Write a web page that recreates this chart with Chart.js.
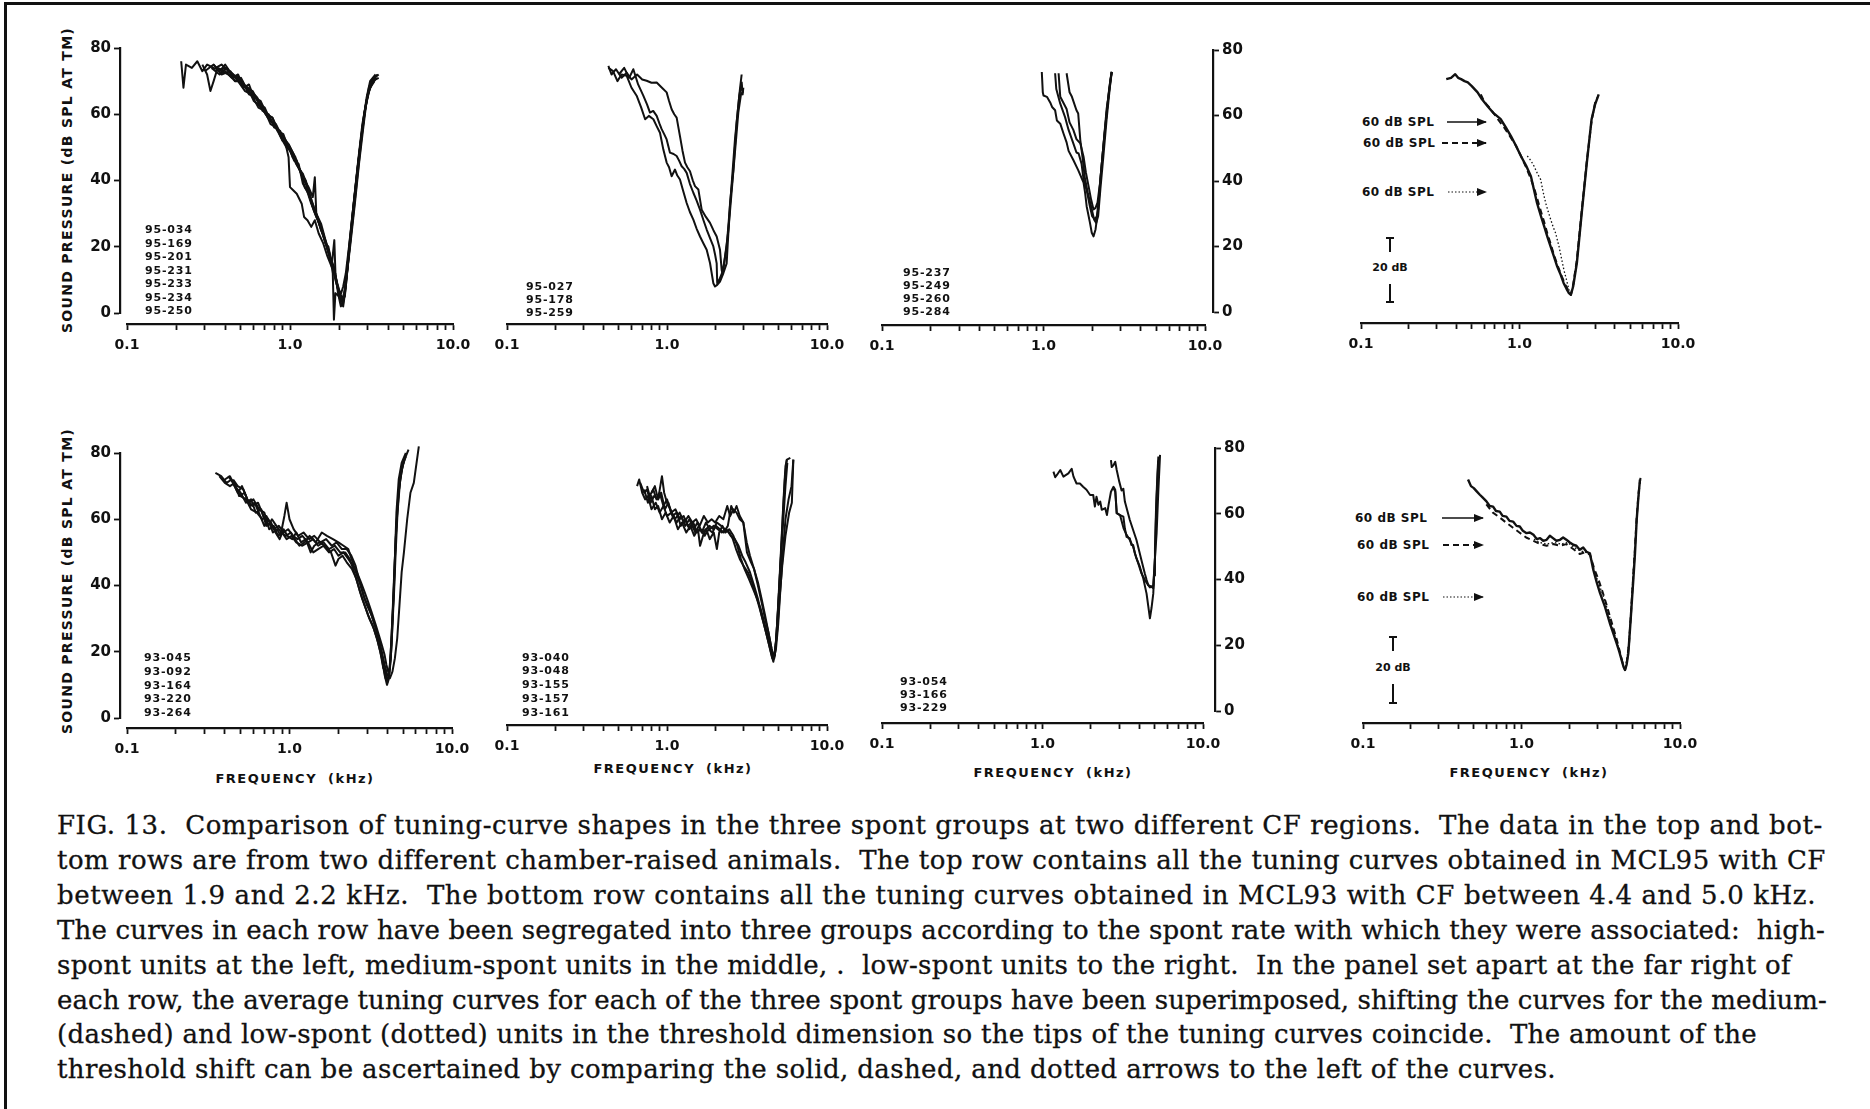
<!DOCTYPE html>
<html>
<head>
<meta charset="utf-8">
<title>Fig. 13 tuning curves</title>
<script src="https://cdn.jsdelivr.net/npm/chart.js@4.4.1/dist/chart.umd.min.js"></script>
<style>
  html, body { margin: 0; padding: 0; background: #fff; }
  body { position: relative; width: 1870px; height: 1109px; overflow: hidden; color: #111; font-family: 'DejaVu Sans', sans-serif; }
  canvas { position: absolute; }
  svg { position: absolute; left: 0; top: 0; }
  .units { position: absolute; font: bold 11px/13.5px 'DejaVu Sans'; letter-spacing: 0.8px; white-space: pre; }
  .ytitle { position: absolute; width: 320px; height: 18px; text-align: center; font: bold 14px/18px 'DejaVu Sans'; letter-spacing: 1.3px; transform: rotate(-90deg); white-space: nowrap; }
  .xtitle { position: absolute; width: 220px; text-align: center; font: bold 13px/18px 'DejaVu Sans'; letter-spacing: 1.5px; word-spacing: 5px; white-space: nowrap; }
  .spl { position: absolute; font: bold 12px/14px 'DejaVu Sans'; letter-spacing: 0.5px; white-space: nowrap; }
  .bar { position: absolute; width: 50px; text-align: center; font: bold 11px/14px 'DejaVu Sans'; white-space: nowrap; }
  .cap { position: absolute; left: 57px; font: 26px/34px 'DejaVu Serif', serif; white-space: pre; -webkit-text-stroke: 0.3px #111; }
</style>
</head>
<body>
<svg width="1870" height="1109">
  <defs>
    <marker id="ah" markerWidth="10" markerHeight="8" refX="9" refY="4" orient="auto" markerUnits="userSpaceOnUse">
      <path d="M0,0 L10,4 L0,8 z" fill="#111"/>
    </marker>
  </defs>
  <rect x="4" y="2" width="3" height="1107" fill="#111"/>
  <rect x="4" y="2" width="1866" height="3" fill="#111"/>
  <!-- arrows, top average panel -->
  <line x1="1447" y1="122" x2="1486" y2="122" stroke="#111" stroke-width="1.6" marker-end="url(#ah)"/>
  <line x1="1442" y1="143" x2="1486" y2="143" stroke="#111" stroke-width="1.8" stroke-dasharray="6 4" marker-end="url(#ah)"/>
  <line x1="1448" y1="192" x2="1486" y2="192" stroke="#111" stroke-width="1.2" stroke-dasharray="1.5 2" marker-end="url(#ah)"/>
  <!-- arrows, bottom average panel -->
  <line x1="1442" y1="518" x2="1483" y2="518" stroke="#111" stroke-width="1.6" marker-end="url(#ah)"/>
  <line x1="1443" y1="545" x2="1483" y2="545" stroke="#111" stroke-width="1.8" stroke-dasharray="6 4" marker-end="url(#ah)"/>
  <line x1="1443" y1="597" x2="1483" y2="597" stroke="#111" stroke-width="1.2" stroke-dasharray="1.5 2" marker-end="url(#ah)"/>
  <!-- 20 dB scale bars -->
  <g stroke="#111" stroke-width="2">
    <line x1="1386" y1="238" x2="1394" y2="238"/><line x1="1390" y1="238" x2="1390" y2="252"/>
    <line x1="1390" y1="284" x2="1390" y2="302"/><line x1="1386" y1="302" x2="1394" y2="302"/>
    <line x1="1389" y1="637" x2="1397" y2="637"/><line x1="1393" y1="637" x2="1393" y2="651"/>
    <line x1="1393" y1="684" x2="1393" y2="703"/><line x1="1389" y1="703" x2="1397" y2="703"/>
  </g>
</svg>

<div class="ytitle" style="left:-93px;top:171px">SOUND PRESSURE (dB SPL AT TM)</div>
<div class="ytitle" style="left:-93px;top:572px">SOUND PRESSURE (dB SPL AT TM)</div>
<div class="xtitle" style="left:185px;top:770px">FREQUENCY (kHz)</div>
<div class="xtitle" style="left:563px;top:760px">FREQUENCY (kHz)</div>
<div class="xtitle" style="left:943px;top:764px">FREQUENCY (kHz)</div>
<div class="xtitle" style="left:1419px;top:764px">FREQUENCY (kHz)</div>

<div class="spl" style="left:1362px;top:115px">60 dB SPL</div>
<div class="spl" style="left:1363px;top:136px">60 dB SPL</div>
<div class="spl" style="left:1362px;top:185px">60 dB SPL</div>
<div class="spl" style="left:1355px;top:511px">60 dB SPL</div>
<div class="spl" style="left:1357px;top:538px">60 dB SPL</div>
<div class="spl" style="left:1357px;top:590px">60 dB SPL</div>
<div class="bar" style="left:1365px;top:261px">20 dB</div>
<div class="bar" style="left:1368px;top:661px">20 dB</div>

<script>
// axis ticks
const freqTicks = [0.1, 0.2, 0.3, 0.4, 0.5, 0.6, 0.7, 0.8, 0.9, 1, 2, 3, 4, 5, 6, 7, 8, 9, 10];
const freqTickLabels = ['0.1', '', '', '', '', '', '', '', '', '1.0', '', '', '', '', '', '', '', '', '10.0'];
const splTicks = [0, 20, 40, 60, 80];
const splTickLabels = ['0', '20', '40', '60', '80'];

// unit numbers listed in each panel
const topHighUnits = ['95-034', '95-169', '95-201', '95-231', '95-233', '95-234', '95-250'];
const topMedUnits = ['95-027', '95-178', '95-259'];
const topLowUnits = ['95-237', '95-249', '95-260', '95-284'];
const botHighUnits = ['93-045', '93-092', '93-164', '93-220', '93-264'];
const botMedUnits = ['93-040', '93-048', '93-155', '93-157', '93-161'];
const botLowUnits = ['93-054', '93-166', '93-229'];

// tuning curves, [kHz, dB SPL]
// MCL95, high spont
const tc95_034 = [[0.215,76],[0.222,68],[0.23,75],[0.25,74],[0.27,76],[0.29,73],[0.31,75],[0.34,74],[0.38,73],[0.42,72],[0.46,70],[0.5,71],[0.55,67],[0.6,66],[0.65,63],[0.7,62],[0.76,58],[0.82,57],[0.9,53],[0.98,51],[1.05,48],[1.12,44],[1.2,42],[1.3,37],[1.4,32],[1.5,28],[1.6,24],[1.7,19],[1.8,15],[1.9,11],[2.0,7],[2.08,4],[2.15,6],[2.25,13],[2.35,21],[2.5,33],[2.65,45],[2.8,55],[2.95,64],[3.1,69],[3.3,71],[3.5,72]];
const tc95_169 = [[0.29,75],[0.31,72],[0.325,67],[0.34,70],[0.36,74],[0.4,73],[0.44,71],[0.48,72],[0.52,68],[0.56,69],[0.6,65],[0.66,64],[0.72,60],[0.78,59],[0.85,55],[0.92,53],[1.0,50],[1.08,47],[1.15,43],[1.25,40],[1.35,34],[1.45,30],[1.55,25],[1.65,22],[1.75,17],[1.85,13],[1.95,8],[2.05,3],[2.12,2],[2.2,8],[2.3,18],[2.45,30],[2.6,42],[2.75,53],[2.9,62],[3.05,68],[3.25,71],[3.45,72]];
const tc95_201 = [[0.35,74],[0.38,75],[0.42,73],[0.47,71],[0.52,69],[0.58,67],[0.63,65],[0.7,61],[0.77,58],[0.85,55],[0.93,52],[0.98,47],[1.0,38],[1.05,37],[1.1,36],[1.18,33],[1.22,29],[1.28,28],[1.35,26],[1.42,28],[1.5,24],[1.6,21],[1.7,17],[1.8,14],[1.87,22],[1.9,12],[1.97,6],[2.05,2],[2.12,3],[2.2,9],[2.32,20],[2.45,32],[2.6,44],[2.78,56],[2.95,65],[3.1,70],[3.35,72]];
const tc95_231 = [[0.36,73],[0.4,74],[0.45,72],[0.5,69],[0.55,68],[0.6,64],[0.67,62],[0.73,59],[0.8,57],[0.88,53],[0.95,50],[1.02,49],[1.1,45],[1.2,41],[1.3,38],[1.38,35],[1.42,41],[1.45,30],[1.55,27],[1.65,22],[1.75,18],[1.83,12],[1.86,-2],[1.9,6],[2.0,5],[2.1,3],[2.18,7],[2.28,17],[2.4,28],[2.55,40],[2.7,51],[2.85,60],[3.0,66],[3.15,69],[3.4,71]];
const tc95_233 = [[0.33,74],[0.37,72],[0.41,74],[0.46,70],[0.51,70],[0.56,66],[0.62,65],[0.68,61],[0.74,60],[0.8,56],[0.87,55],[0.94,51],[1.0,49],[1.06,46],[1.13,45],[1.2,39],[1.27,37],[1.35,33],[1.45,29],[1.55,26],[1.65,21],[1.72,20],[1.8,15],[1.9,10],[2.0,6],[2.07,5],[2.14,4],[2.22,11],[2.33,22],[2.48,35],[2.62,46],[2.78,57],[2.92,63],[3.1,68],[3.3,70]];
const tc95_234 = [[0.3,73],[0.34,75],[0.38,72],[0.43,73],[0.48,70],[0.53,67],[0.58,66],[0.64,62],[0.7,61],[0.76,57],[0.83,56],[0.9,52],[0.97,51],[1.04,47],[1.1,46],[1.17,42],[1.25,39],[1.32,35],[1.4,31],[1.48,28],[1.58,24],[1.68,20],[1.78,16],[1.88,12],[1.98,7],[2.06,6],[2.12,8],[2.2,12],[2.3,20],[2.42,30],[2.56,41],[2.72,52],[2.88,61],[3.05,67],[3.25,70],[3.4,71]];
const tc95_250 = [[0.34,75],[0.37,73],[0.4,75],[0.44,72],[0.49,71],[0.54,68],[0.59,67],[0.65,63],[0.71,60],[0.78,59],[0.84,55],[0.91,54],[0.97,50],[1.03,48],[1.09,45],[1.16,43],[1.23,38],[1.3,36],[1.38,32],[1.46,29],[1.56,25],[1.66,21],[1.76,17],[1.86,14],[1.94,9],[2.02,6],[2.1,4],[2.17,5],[2.26,14],[2.38,25],[2.52,37],[2.68,49],[2.84,59],[3.0,66],[3.2,70],[3.5,71]];
// MCL95, medium spont
const tc95_027 = [[0.43,74.6],[0.45,72],[0.48,73.6],[0.52,71],[0.56,72.5],[0.6,70.5],[0.65,72],[0.7,70.5],[0.746,70.1],[0.8,69.5],[0.862,69.6],[0.93,68],[0.995,66.6],[1.03,64],[1.069,61.5],[1.11,60],[1.149,59],[1.205,53.4],[1.25,49],[1.296,45.4],[1.34,44],[1.392,42.8],[1.45,40],[1.496,38.3],[1.57,37.3],[1.647,31.2],[1.75,29],[1.857,27.2],[1.95,25],[2.044,23.1],[2.144,19.1],[2.196,13],[2.22,12],[2.36,20],[2.5,35],[2.66,52.4],[2.83,65.6],[2.93,69.6],[2.97,66],[3.0,68]];
const tc95_178 = [[0.5,72],[0.54,74],[0.58,71],[0.616,73.6],[0.66,69],[0.711,65.6],[0.75,63],[0.783,60.5],[0.82,61],[0.862,59.5],[0.9,57],[0.926,55.5],[0.96,54],[0.995,52.4],[1.044,48.4],[1.1,48],[1.149,47.4],[1.19,46],[1.235,44.3],[1.28,43.5],[1.327,42.3],[1.39,39],[1.461,36.3],[1.53,34],[1.608,31.2],[1.69,28],[1.77,25.2],[1.86,22.5],[1.948,20.1],[2.0,17.5],[2.044,15],[2.06,9],[2.12,10],[2.25,13],[2.42,25],[2.6,43],[2.79,60.5],[2.9,66],[3.0,67]];
const tc95_259 = [[0.43,74],[0.46,73],[0.49,70],[0.52,72],[0.56,71.6],[0.6,68],[0.646,65.6],[0.69,62],[0.73,58.5],[0.77,59.5],[0.822,58.5],[0.86,56.5],[0.904,54.4],[0.948,49.4],[0.995,45.4],[1.03,44],[1.069,41.3],[1.122,43.3],[1.16,41.5],[1.205,40.3],[1.26,37],[1.327,33.2],[1.39,30.5],[1.461,28.2],[1.53,25.5],[1.608,23.1],[1.69,21],[1.77,19.1],[1.857,15.1],[1.948,9],[1.995,8],[2.06,8.5],[2.144,9.5],[2.25,12],[2.36,15],[2.476,33],[2.597,43],[2.724,57.5],[2.857,67.6],[2.928,72]];
// MCL95, low spont
const tc95_237 = [[0.976,73.3],[0.99,67.1],[1.0,66.1],[1.05,65.7],[1.1,64],[1.13,62.6],[1.18,61.6],[1.21,58.5],[1.27,57.5],[1.33,54.5],[1.39,51.8],[1.43,49.2],[1.53,46.4],[1.64,43.3],[1.77,39.5],[1.81,36.4],[1.85,32.3],[1.94,27.2],[1.99,24.2],[2.04,23.1],[2.1,25.2],[2.18,31.3],[2.25,40.5],[2.35,50.8],[2.46,62],[2.58,69.2],[2.65,73.3]];
const tc95_249 = [[1.18,72.9],[1.2,68.1],[1.27,63.6],[1.36,59.5],[1.43,55.6],[1.53,51.5],[1.6,48.7],[1.65,48.4],[1.72,45.3],[1.77,40.5],[1.85,37.2],[1.94,32.1],[2.0,29.3],[2.08,28.2],[2.14,29.3],[2.2,34.4],[2.28,43.6],[2.38,53.8],[2.5,64],[2.6,71.2],[2.65,73.3]];
const tc95_260 = [[1.24,72.9],[1.27,65.7],[1.39,62],[1.45,57.9],[1.53,55.6],[1.6,52.8],[1.69,51.5],[1.77,47.4],[1.83,42.6],[1.9,38.5],[1.97,34.4],[2.04,31.3],[2.1,31.8],[2.16,33.4],[2.24,39.5],[2.33,48.7],[2.44,58.9],[2.55,68.1],[2.64,73.3]];
const tc95_284 = [[1.39,72.9],[1.45,67.1],[1.5,65.7],[1.6,61.6],[1.64,60.6],[1.69,52.5],[1.75,46.7],[1.8,41.2],[1.88,36.4],[1.97,32.3],[2.06,28.2],[2.12,27.2],[2.18,29.3],[2.25,37.5],[2.35,47.7],[2.46,58.9],[2.57,68.1],[2.64,73.3]];
// MCL95, group averages
const avg95High = [[0.345,70.6],[0.37,71],[0.393,72.1],[0.41,71],[0.428,70.6],[0.45,70],[0.472,69.6],[0.5,68.5],[0.544,66.6],[0.58,64.5],[0.627,62.5],[0.68,60.5],[0.72,59.5],[0.761,58.5],[0.82,56],[0.883,53.4],[0.95,50.5],[1.02,47.4],[1.1,44.5],[1.18,41.3],[1.23,37.5],[1.29,33.2],[1.36,29.5],[1.43,26.2],[1.5,23],[1.57,20.1],[1.65,17],[1.73,14],[1.82,11.5],[1.9,9],[1.98,7.3],[2.05,6],[2.11,5.5],[2.18,8],[2.3,15],[2.47,30.2],[2.66,45.4],[2.85,58.5],[3.0,63],[3.16,66]];
const avg95Med = [[0.57,66],[0.59,64.5],[0.62,63],[0.66,61.5],[0.73,58.5],[0.8,56],[0.88,53],[0.95,50.5],[1.02,47.5],[1.1,44],[1.18,40.5],[1.25,37],[1.33,32.5],[1.43,27.5],[1.5,24],[1.57,21],[1.65,17.5],[1.75,14],[1.85,11],[1.95,8.5],[2.05,6.5],[2.11,5.5],[2.18,8.5],[2.3,16],[2.47,31],[2.66,46],[2.85,58],[3.0,63.5],[3.1,65]];
const avg95Low = [[1.12,47.4],[1.18,46],[1.236,44.3],[1.3,42],[1.36,40.3],[1.41,36.5],[1.463,33.2],[1.52,30.5],[1.574,28.2],[1.63,26],[1.69,24.1],[1.775,20.1],[1.84,16.5],[1.906,13],[1.98,10],[2.05,7],[2.11,5.8],[2.18,8],[2.3,15.5],[2.47,30.5],[2.66,45.5],[2.85,58],[3.0,63]];
// MCL93, high spont
const tc93_045 = [[0.35,74],[0.38,73],[0.41,71],[0.44,72],[0.47,69],[0.5,67],[0.54,66],[0.58,63],[0.63,62],[0.68,60],[0.72,61],[0.76,59],[0.8,57],[0.86,58],[0.92,56],[0.98,57],[1.05,55],[1.12,54],[1.2,55],[1.3,53],[1.4,54],[1.5,52],[1.62,53],[1.75,51],[1.9,52],[2.05,50],[2.2,50],[2.35,48],[2.5,44],[2.65,40],[2.8,36],[2.95,33],[3.1,30],[3.3,27],[3.5,23],[3.7,18],[3.85,13],[3.98,10],[4.1,12],[4.2,20],[4.3,30],[4.4,40],[4.5,54],[4.65,66],[4.85,74],[5.1,78],[5.4,81]];
const tc93_092 = [[0.37,73],[0.4,71],[0.43,70],[0.46,71],[0.49,67],[0.53,68],[0.57,64],[0.61,65],[0.66,61],[0.7,58],[0.74,60],[0.79,56],[0.84,57],[0.88,55],[0.93,61],[0.96,65],[1.0,60],[1.06,57],[1.13,55],[1.22,56],[1.32,54],[1.42,55],[1.55,53],[1.68,54],[1.82,52],[1.95,53],[2.1,51],[2.25,51],[2.4,49],[2.55,46],[2.7,41],[2.85,37],[3.0,34],[3.2,31],[3.4,27],[3.6,22],[3.75,17],[3.9,12],[4.02,11],[4.12,14],[4.22,22],[4.32,33],[4.42,45],[4.55,58],[4.72,69],[4.95,76],[5.2,79]];
const tc93_164 = [[0.4,72],[0.43,73],[0.46,70],[0.5,68],[0.54,65],[0.58,66],[0.62,62],[0.67,63],[0.72,58],[0.77,59],[0.82,56],[0.87,54],[0.92,57],[0.97,55],[1.04,54],[1.1,56],[1.18,53],[1.26,54],[1.35,50],[1.42,52],[1.52,53],[1.65,52],[1.8,50],[1.92,46],[2.0,48],[2.12,49],[2.25,47],[2.42,45],[2.58,42],[2.72,38],[2.9,34],[3.05,31],[3.25,28],[3.45,24],[3.62,20],[3.78,15],[3.9,14],[4.0,11],[4.1,13],[4.2,18],[4.3,28],[4.4,38],[4.5,50],[4.62,62],[4.8,72],[5.06,78]];
const tc93_220 = [[0.42,73],[0.45,71],[0.48,68],[0.51,70],[0.55,66],[0.59,64],[0.64,65],[0.69,61],[0.74,58],[0.78,60],[0.83,58],[0.89,56],[0.95,55],[1.02,56],[1.08,54],[1.15,52],[1.24,53],[1.33,55],[1.45,53],[1.58,56],[1.7,55],[1.85,54],[2.0,53],[2.15,52],[2.3,51],[2.45,47],[2.6,43],[2.75,40],[2.9,36],[3.1,33],[3.3,29],[3.5,25],[3.7,20],[3.85,16],[4.0,13],[4.15,12],[4.3,14],[4.45,18],[4.6,24],[4.75,34],[4.9,44],[5.06,50],[5.3,60],[5.55,68],[5.82,71],[6.25,82]];
const tc93_264 = [[0.45,72],[0.48,70],[0.52,69],[0.56,65],[0.6,66],[0.65,63],[0.7,62],[0.75,57],[0.8,58],[0.85,55],[0.9,56],[0.96,54],[1.03,55],[1.1,53],[1.2,52],[1.3,53],[1.4,50],[1.5,51],[1.62,52],[1.75,50],[1.88,51],[2.0,49],[2.15,50],[2.3,48],[2.45,46],[2.6,44],[2.75,41],[2.9,38],[3.05,35],[3.2,32],[3.4,28],[3.55,25],[3.7,22],[3.85,19],[3.95,16],[4.05,14],[4.15,15],[4.25,22],[4.35,35],[4.45,48],[4.55,62],[4.7,72],[4.9,77],[5.2,80]];
// MCL93, medium spont
const tc93_040 = [[0.65,70],[0.67,72],[0.7,68],[0.73,66],[0.76,67],[0.8,63],[0.85,65],[0.9,62],[0.95,64],[1.0,61],[1.07,62],[1.15,59],[1.22,61],[1.3,58],[1.38,60],[1.47,57],[1.55,59],[1.65,56],[1.75,59],[1.85,57],[1.96,58],[2.08,57],[2.2,56],[2.35,57],[2.5,55],[2.65,54],[2.8,52],[2.95,49],[3.1,47],[3.3,44],[3.5,40],[3.7,36],[3.9,31],[4.1,27],[4.3,23],[4.5,19],[4.62,17],[4.75,20],[4.9,30],[5.05,42],[5.2,54],[5.35,66],[5.5,76],[5.62,78],[5.9,78.5]];
const tc93_048 = [[0.68,71],[0.72,68],[0.75,69],[0.79,65],[0.83,67],[0.88,66],[0.93,73],[0.96,68],[1.0,65],[1.05,63],[1.12,60],[1.2,62],[1.28,59],[1.36,61],[1.44,59],[1.52,60],[1.6,58],[1.7,61],[1.8,59],[1.9,60],[2.0,59],[2.12,61],[2.25,60],[2.38,64],[2.48,61],[2.6,63],[2.72,62],[2.85,60],[3.0,59],[3.15,53],[3.3,49],[3.5,45],[3.7,41],[3.9,36],[4.1,31],[4.3,26],[4.5,21],[4.65,18],[4.8,21],[4.95,28],[5.1,38],[5.3,50],[5.5,60],[5.75,66],[6.0,70],[6.16,78]];
const tc93_155 = [[0.72,69],[0.76,65],[0.8,67],[0.84,63],[0.88,64],[0.93,60],[0.98,62],[1.04,59],[1.1,61],[1.17,57],[1.24,59],[1.32,56],[1.4,58],[1.48,55],[1.56,57],[1.61,52],[1.68,55],[1.76,57],[1.85,54],[1.96,56],[2.05,51],[2.12,56],[2.22,58],[2.32,56],[2.45,57],[2.6,55],[2.75,52],[2.9,48],[3.05,45],[3.25,42],[3.45,39],[3.65,36],[3.85,33],[4.05,29],[4.25,25],[4.45,21],[4.6,18],[4.72,19],[4.85,26],[5.0,37],[5.15,49],[5.3,61],[5.45,72],[5.6,78]];
const tc93_157 = [[0.75,70],[0.78,67],[0.82,69],[0.86,66],[0.9,68],[0.95,64],[1.0,66],[1.06,62],[1.13,63],[1.2,60],[1.27,61],[1.35,58],[1.43,59],[1.5,56],[1.58,58],[1.66,56],[1.75,57],[1.85,58],[1.95,57],[2.05,59],[2.18,58],[2.3,57],[2.45,56],[2.58,54],[2.7,51],[2.85,48],[3.0,46],[3.2,44],[3.4,41],[3.6,37],[3.8,33],[4.0,29],[4.2,25],[4.4,21],[4.55,18],[4.68,18],[4.8,23],[4.95,33],[5.1,45],[5.3,58],[5.5,70],[5.65,77]];
const tc93_161 = [[0.8,68],[0.84,70],[0.88,66],[0.92,68],[0.97,63],[1.02,65],[1.08,61],[1.15,62],[1.22,58],[1.3,60],[1.38,57],[1.46,59],[1.54,56],[1.62,57],[1.72,55],[1.82,57],[1.92,56],[2.02,58],[2.14,57],[2.26,56],[2.4,58],[2.52,64],[2.62,62],[2.72,64],[2.85,61],[3.0,59],[3.16,50],[3.35,47],[3.5,45],[3.7,40],[3.9,35],[4.1,30],[4.3,26],[4.5,21],[4.64,18],[4.78,22],[4.9,27],[5.05,36],[5.25,46],[5.5,55],[5.8,62],[6.03,65],[6.16,78]];
// MCL93, low spont
const tc93_054 = [[1.17,72.8],[1.2,71.1],[1.23,71.8],[1.29,73.3],[1.35,71.3],[1.45,72.3],[1.52,73.7],[1.56,71.3],[1.63,69.2],[1.71,69.2],[1.79,68.2],[1.88,67.3],[1.98,65.7],[2.07,65.7],[2.12,62.2],[2.17,65.2],[2.23,62.7],[2.29,63.7],[2.34,61.2],[2.46,61.7],[2.52,59.6],[2.58,62.7],[2.67,66.7],[2.77,68.2],[2.84,67.3],[2.9,60.2],[3.04,59.6],[3.19,59.1],[3.26,55.5],[3.34,53],[3.5,52.5],[3.58,50.5],[3.67,50.5],[3.76,48],[3.95,44.9],[4.14,41.8],[4.34,39.9],[4.56,38.3],[4.78,37.8],[4.9,38.1],[5.0,45.3],[5.14,54.1],[5.27,67],[5.4,77.9]];
const tc93_166 = [[2.67,76.3],[2.7,74.2],[2.77,74.8],[2.84,75.8],[2.9,73.3],[3.0,70],[3.11,67.1],[3.19,67.6],[3.26,63.7],[3.5,58.1],[3.85,52],[4.14,45.8],[4.34,41.8],[4.45,39.9],[4.56,38.3],[4.67,37.6],[4.78,37.8],[4.9,37.3],[5.02,46.4],[5.08,56.7],[5.14,64.9],[5.27,76.2]];
const tc93_229 = [[2.77,67.8],[2.84,66.7],[2.9,60.2],[3.04,59.6],[3.2,55.6],[3.34,53.6],[3.5,52],[3.67,50],[3.85,46.4],[4.04,43.9],[4.25,40.2],[4.45,35.7],[4.56,31.9],[4.67,28.2],[4.78,31.4],[4.9,35.7],[4.96,41.2],[5.02,49.4],[5.1,61.8],[5.2,72.1],[5.27,77.4]];
// MCL93, group averages
const avg93High = [[0.46,72],[0.48,70],[0.5,69.4],[0.52,68.5],[0.546,67.4],[0.57,66.5],[0.601,65.4],[0.63,64],[0.662,63.8],[0.69,62.5],[0.729,62.3],[0.76,61],[0.803,60.8],[0.84,59.5],[0.885,59.3],[0.93,58],[0.975,57.8],[1.02,56.5],[1.076,55.8],[1.13,56],[1.19,55.3],[1.25,54],[1.31,54.3],[1.37,53.5],[1.44,53.8],[1.51,55],[1.58,54.3],[1.66,53.5],[1.75,53.8],[1.83,54.5],[1.92,53.8],[2.02,53],[2.12,52.3],[2.22,52],[2.33,50.8],[2.45,51.5],[2.57,50.2],[2.7,49.7],[2.84,44.7],[2.98,41],[3.13,37.7],[3.36,33.6],[3.61,28.6],[3.8,25.5],[3.98,22.6],[4.14,20],[4.28,17.5],[4.4,15.5],[4.5,14.5],[4.6,16],[4.72,19.5],[4.84,27],[4.96,34.6],[5.08,42],[5.2,49.7],[5.33,59.8],[5.45,66],[5.59,72]];
const avg93Med = [[0.6,64.5],[0.66,62],[0.73,60.5],[0.8,59],[0.88,57.5],[0.97,56],[1.07,54.5],[1.19,53.5],[1.31,52.5],[1.44,52],[1.58,52.5],[1.75,52],[1.92,52.5],[2.12,51],[2.33,49.5],[2.5,50],[2.7,49.5],[2.88,45],[3.05,42],[3.25,38],[3.5,33],[3.75,28],[4.0,23.5],[4.2,19.5],[4.38,16],[4.5,14.5],[4.62,17],[4.76,22],[4.9,31],[5.04,41],[5.18,50],[5.32,60],[5.48,68],[5.65,73]];
const avg93Low = [[1.2,54],[1.3,53],[1.44,52.5],[1.6,53],[1.78,52.5],[1.95,53],[2.15,51.5],[2.35,50.5],[2.55,50],[2.72,49],[2.9,44],[3.1,40],[3.3,36.5],[3.55,31.5],[3.8,26.5],[4.05,22],[4.25,18.5],[4.42,15.5],[4.5,14.5],[4.62,17.5],[4.76,23],[4.9,32],[5.05,43],[5.2,52],[5.35,61],[5.5,68]];

// figure caption
const captionLines = [
  'FIG. 13.  Comparison of tuning-curve shapes in the three spont groups at two different CF regions.  The data in the top and bot-',
  'tom rows are from two different chamber-raised animals.  The top row contains all the tuning curves obtained in MCL95 with CF',
  'between 1.9 and 2.2 kHz.  The bottom row contains all the tuning curves obtained in MCL93 with CF between 4.4 and 5.0 kHz.',
  'The curves in each row have been segregated into three groups according to the spont rate with which they were associated:  high-',
  'spont units at the left, medium-spont units in the middle, .  low-spont units to the right.  In the panel set apart at the far right of',
  'each row, the average tuning curves for each of the three spont groups have been superimposed, shifting the curves for the medium-',
  '(dashed) and low-spont (dotted) units in the threshold dimension so the tips of the tuning curves coincide.  The amount of the',
  'threshold shift can be ascertained by comparing the solid, dashed, and dotted arrows to the left of the curves.'
];

// page layout (pixels)
const captionTop = 808, captionStep = 34.9;
const captionEnds = [1822, 1825, 1816, 1825, 1791, 1827, 1757, 1556];

const panels = [
  { x01: 127, x10: 453, y80: 48, y0: 313, axisY: 324, yAxis: 'left', axisX: 120,
    curves: [tc95_034, tc95_169, tc95_201, tc95_231, tc95_233, tc95_234, tc95_250],
    units: topHighUnits, unitsAt: [145, 223, 13.5] },
  { x01: 507, x10: 827, y80: 48, y0: 313, axisY: 324,
    curves: [tc95_027, tc95_178, tc95_259],
    units: topMedUnits, unitsAt: [526, 279.5, 13] },
  { x01: 882, x10: 1205, y80: 50, y0: 312, axisY: 325, yAxis: 'right', axisX: 1213,
    curves: [tc95_237, tc95_249, tc95_260, tc95_284],
    units: topLowUnits, unitsAt: [903, 265.5, 13] },
  { x01: 1361, x10: 1678, y80: 48, y0: 313, axisY: 323,
    curves: [avg95High, avg95Med, avg95Low], styles: ['mean', 'dashed', 'dotted'] },
  { x01: 127, x10: 452, y80: 453, y0: 718, axisY: 728, yAxis: 'left', axisX: 120,
    curves: [tc93_045, tc93_092, tc93_164, tc93_220, tc93_264],
    units: botHighUnits, unitsAt: [144, 651, 13.75] },
  { x01: 507, x10: 827, y80: 453, y0: 718, axisY: 725,
    curves: [tc93_040, tc93_048, tc93_155, tc93_157, tc93_161],
    units: botMedUnits, unitsAt: [522, 650.5, 13.75] },
  { x01: 882, x10: 1203, y80: 448, y0: 711, axisY: 723, yAxis: 'right', axisX: 1215,
    curves: [tc93_054, tc93_166, tc93_229],
    units: botLowUnits, unitsAt: [900, 674.5, 13] },
  { x01: 1363, x10: 1680, y80: 453, y0: 718, axisY: 723,
    curves: [avg93High, avg93Med, avg93Low], styles: ['mean', 'dashed', 'dotted'] }
];

const INK = '#111';
const PL = 22, PR = 28, PT = 16, XH = 44, YW = 42;

function lineStyle(kind) {
  if (kind === 'dashed') return { borderWidth: 2, borderDash: [6, 4] };
  if (kind === 'dotted') return { borderWidth: 1.3, borderDash: [1.5, 2.2] };
  if (kind === 'mean') return { borderWidth: 2.4 };
  return { borderWidth: 2 };
}

function gapScale(position, size) {
  const horizontal = position === 'bottom';
  return {
    type: 'linear', position, weight: 0, display: true,
    grid: { display: false }, ticks: { display: false }, border: { display: false },
    afterFit: s => { if (horizontal) s.height = size; else s.width = size; }
  };
}

function buildPanel(p) {
  const leftW = p.yAxis === 'left' ? (p.x01 - p.axisX) + YW : 0;
  const rightW = p.yAxis === 'right' ? (p.axisX - p.x10) + YW : 0;
  const gapB = p.axisY - p.y0;

  const cv = document.createElement('canvas');
  cv.width = PL + leftW + (p.x10 - p.x01) + rightW + PR;
  cv.height = PT + (p.y0 - p.y80) + gapB + XH;
  cv.style.left = (p.x01 - PL - leftW) + 'px';
  cv.style.top = (p.y80 - PT) + 'px';
  document.body.appendChild(cv);

  const scales = {
    x: {
      type: 'logarithmic', position: 'bottom', weight: 10, min: 0.1, max: 10,
      afterBuildTicks: s => { s.ticks = freqTicks.map(v => ({ value: v })); },
      afterFit: s => { s.height = XH; },
      grid: { display: true, drawOnChartArea: false, drawTicks: true, tickLength: 6, tickColor: INK, tickWidth: 1.8 },
      border: { display: true, color: INK, width: 2.2 },
      ticks: {
        autoSkip: false, maxRotation: 0, minRotation: 0, padding: 7, color: INK,
        font: { family: 'DejaVu Sans', size: 14, weight: 'bold' },
        callback: v => { const i = freqTicks.indexOf(v); return i >= 0 ? freqTickLabels[i] : ''; }
      }
    },
    xGap: gapScale('bottom', gapB)
  };

  if (p.yAxis) {
    scales.yGap = gapScale(p.yAxis, p.yAxis === 'left' ? p.x01 - p.axisX : p.axisX - p.x10);
    scales.y = {
      type: 'linear', position: p.yAxis, weight: 10, min: 0, max: 80,
      afterBuildTicks: s => { s.ticks = splTicks.map(v => ({ value: v })); },
      afterFit: s => { s.width = YW; },
      grid: { display: true, drawOnChartArea: false, drawTicks: true, tickLength: 6, tickColor: INK, tickWidth: 1.8 },
      border: { display: true, color: INK, width: 2.2 },
      ticks: {
        padding: 3, color: INK,
        font: { family: 'DejaVu Sans', size: 15, weight: 'bold' },
        callback: v => { const i = splTicks.indexOf(v); return i >= 0 ? splTickLabels[i] : ''; }
      }
    };
  } else {
    scales.y = { type: 'linear', min: 0, max: 80, display: false };
  }

  const datasets = p.curves.map((c, i) => Object.assign({
    data: c.map(([f, db]) => ({ x: f, y: db })),
    xAxisID: 'x', yAxisID: 'y',
    borderColor: INK, pointRadius: 0, fill: false, tension: 0,
    borderJoinStyle: 'round', clip: false
  }, lineStyle(p.styles ? p.styles[i] : 'unit')));

  new Chart(cv, {
    type: 'line',
    data: { datasets },
    options: {
      responsive: false, animation: false, events: [],
      layout: { padding: { left: PL, right: PR, top: PT, bottom: 0 } },
      plugins: { legend: { display: false }, tooltip: { enabled: false } },
      scales
    }
  });

  if (p.units) {
    const d = document.createElement('div');
    d.className = 'units';
    d.style.left = p.unitsAt[0] + 'px';
    d.style.top = p.unitsAt[1] + 'px';
    d.style.lineHeight = p.unitsAt[2] + 'px';
    d.textContent = p.units.join('\n');
    document.body.appendChild(d);
  }
}

panels.forEach(buildPanel);

// caption, each line stretched to the width it has in the original
captionLines.forEach((t, i) => {
  const d = document.createElement('div');
  d.className = 'cap';
  d.style.top = (captionTop + i * captionStep) + 'px';
  d.textContent = t;
  document.body.appendChild(d);
  const w = d.getBoundingClientRect().width;
  d.style.letterSpacing = ((captionEnds[i] - 57 - w) / t.length).toFixed(3) + 'px';
});
</script>
</body>
</html>
